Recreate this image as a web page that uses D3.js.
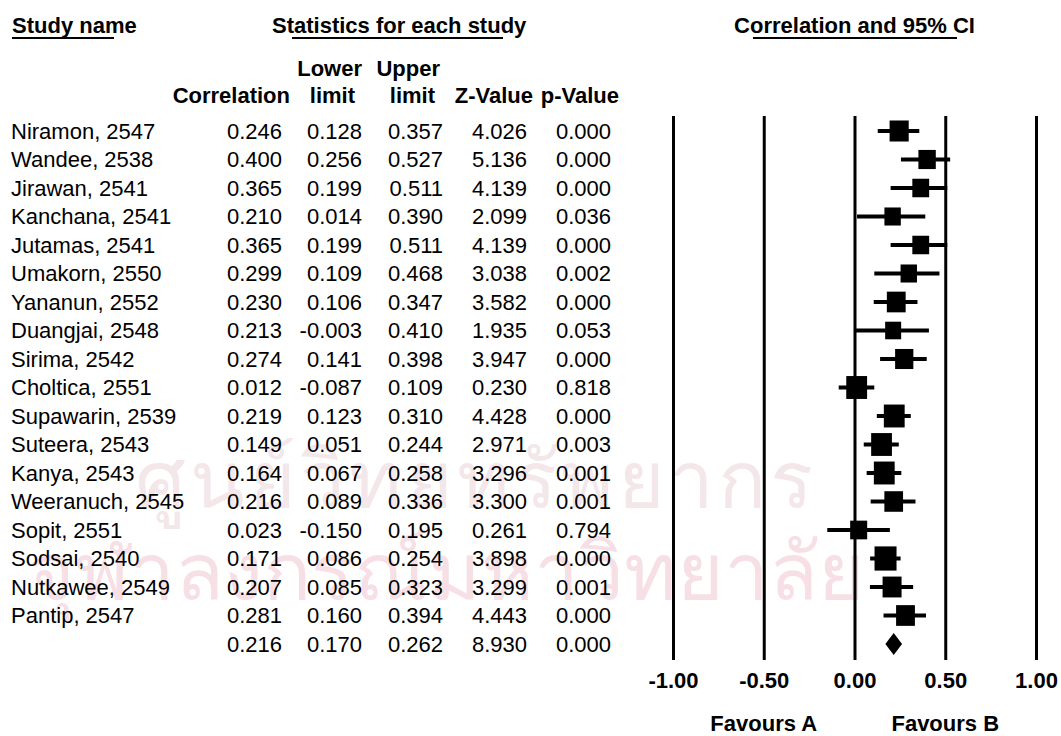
<!DOCTYPE html>
<html>
<head>
<meta charset="utf-8">
<script src="https://cdn.jsdelivr.net/npm/d3@7"></script>
<style>
  body { margin: 0; background: #fff; }
  text { font-family: Arial, "Liberation Sans", sans-serif; fill: #000; }
</style>
</head>
<body>
<div id="my_dataviz"></div>
<script>
// study rows
var studies = ["Niramon, 2547", "Wandee, 2538", "Jirawan, 2541", "Kanchana, 2541", "Jutamas, 2541",
    "Umakorn, 2550", "Yananun, 2552", "Duangjai, 2548", "Sirima, 2542", "Choltica, 2551",
    "Supawarin, 2539", "Suteera, 2543", "Kanya, 2543", "Weeranuch, 2545", "Sopit, 2551",
    "Sodsai, 2540", "Nutkawee, 2549", "Pantip, 2547"];
var correlation = [0.246, 0.400, 0.365, 0.210, 0.365, 0.299, 0.230, 0.213, 0.274, 0.012,
    0.219, 0.149, 0.164, 0.216, 0.023, 0.171, 0.207, 0.281];
var lowerLimit = [0.128, 0.256, 0.199, 0.014, 0.199, 0.109, 0.106, -0.003, 0.141, -0.087,
    0.123, 0.051, 0.067, 0.089, -0.150, 0.086, 0.085, 0.160];
var upperLimit = [0.357, 0.527, 0.511, 0.390, 0.511, 0.468, 0.347, 0.410, 0.398, 0.109,
    0.310, 0.244, 0.258, 0.336, 0.195, 0.254, 0.323, 0.394];
var zValue = [4.026, 5.136, 4.139, 2.099, 4.139, 3.038, 3.582, 1.935, 3.947, 0.230,
    4.428, 2.971, 3.296, 3.300, 0.261, 3.898, 3.299, 4.443];
var pValue = [0.000, 0.000, 0.000, 0.036, 0.000, 0.002, 0.000, 0.053, 0.000, 0.818,
    0.000, 0.003, 0.001, 0.001, 0.794, 0.000, 0.001, 0.000];
// pooled estimate: correlation, lower, upper, z, p
var summaryStats = [0.216, 0.170, 0.262, 8.930, 0.000];
var tickValues = [-1, -0.5, 0, 0.5, 1];
var favourLabels = [{ v: -0.5, label: "Favours A" }, { v: 0.5, label: "Favours B" }];

var width = 1061, height = 736;
var svg = d3.select("#my_dataviz")
    .append("svg")
    .attr("width", width)
    .attr("height", height);

// faint watermark behind everything
var wm = svg.append("g").style("font-family", "'Noto Sans Thai', 'Noto Sans', 'DejaVu Sans', sans-serif");
wm.append("text").attr("x", 135).attr("y", 508).style("font-size", "80px")
    .style("letter-spacing", "4px").style("fill", "#f4e7ea")
    .text("ศูนย์วิทยทรัพยากร");
wm.append("text").attr("x", 28).attr("y", 600).style("font-size", "80px").style("fill", "#f7e0e5")
    .text("จุฬาลงกรณ์มหาวิทยาลัย");

var nRows = studies.length + 1;
var x = d3.scaleLinear().domain([-1, 1]).range([673, 1036]);
var y = d3.scalePoint().domain(d3.range(nRows)).range([131, 644]);

var lineTop = 116, axisY = 660;

// box size from study precision (fisher z)
var precision = studies.map(function (d, i) {
    return 3.92 / (Math.atanh(upperLimit[i]) - Math.atanh(lowerLimit[i]));
});
var boxSize = d3.scaleLinear().domain(d3.extent(precision)).range([16, 22]);

// headers
var head = svg.append("g").style("font-weight", "bold").style("font-size", "22px");
head.append("text").attr("x", 12).attr("y", 33).text("Study name");
head.append("text").attr("x", 272).attr("y", 33).text("Statistics for each study");
head.append("text").attr("x", x(0)).attr("y", 33).attr("text-anchor", "middle").text("Correlation and 95% CI");

var underlines = [[12, 114], [292, 503], [753, 957]];
svg.selectAll(".uline").data(underlines).enter().append("line")
    .attr("class", "uline")
    .attr("x1", function (d) { return d[0]; })
    .attr("x2", function (d) { return d[1]; })
    .attr("y1", 38).attr("y2", 38)
    .attr("stroke", "#000").attr("stroke-width", 2);

var colHeads = [
    { t: "Lower", x: 362, y: 76 }, { t: "Upper", x: 440, y: 76 },
    { t: "Correlation", x: 290, y: 103 }, { t: "limit", x: 355, y: 103 },
    { t: "limit", x: 435, y: 103 }, { t: "Z-Value", x: 533, y: 103 }, { t: "p-Value", x: 619, y: 103 }
];
head.selectAll(".colhead").data(colHeads).enter().append("text")
    .attr("class", "colhead")
    .attr("x", function (d) { return d.x; })
    .attr("y", function (d) { return d.y; })
    .attr("text-anchor", "end")
    .text(function (d) { return d.t; });

// table body
var fmt = d3.format(".3f");
var cols = [correlation, lowerLimit, upperLimit, zValue, pValue];
var colRight = [282, 362, 443, 527, 611];
var table = svg.append("g").style("font-size", "22px");

table.selectAll(".name").data(studies).enter().append("text")
    .attr("class", "name")
    .attr("x", 11)
    .attr("y", function (d, i) { return y(i); })
    .attr("dy", "0.35em")
    .text(function (d) { return d; });

cols.forEach(function (col, c) {
    var vals = col.concat([summaryStats[c]]);
    table.selectAll(".c" + c).data(vals).enter().append("text")
        .attr("class", "c" + c)
        .attr("x", colRight[c])
        .attr("y", function (d, i) { return y(i); })
        .attr("dy", "0.35em")
        .attr("text-anchor", "end")
        .text(function (d) { return fmt(d).replace("−", "-"); });
});

// vertical reference lines + tick labels
var xAxis = d3.axisBottom(x)
    .tickValues(tickValues)
    .tickSize(-(axisY - lineTop))
    .tickPadding(12)
    .tickFormat(function (d) { return d.toFixed(2); });

var gx = svg.append("g")
    .attr("transform", "translate(0," + axisY + ")")
    .call(xAxis);
gx.select(".domain").remove();
gx.selectAll(".tick line").attr("stroke", "#000").attr("stroke-width", 3);
gx.selectAll(".tick text")
    .attr("fill", "#000")
    .style("font-family", "Arial, 'Liberation Sans', sans-serif")
    .style("font-size", "22px")
    .style("font-weight", "bold");

// confidence intervals
var plot = svg.append("g");
plot.selectAll(".ci").data(studies).enter().append("line")
    .attr("class", "ci")
    .attr("x1", function (d, i) { return x(lowerLimit[i]); })
    .attr("x2", function (d, i) { return x(upperLimit[i]); })
    .attr("y1", function (d, i) { return y(i); })
    .attr("y2", function (d, i) { return y(i); })
    .attr("stroke", "#000").attr("stroke-width", 4);

plot.selectAll(".box").data(studies).enter().append("rect")
    .attr("class", "box")
    .attr("x", function (d, i) { return x(correlation[i]) - boxSize(precision[i]) / 2; })
    .attr("y", function (d, i) { return y(i) - boxSize(precision[i]) * 1.1 / 2; })
    .attr("width", function (d, i) { return boxSize(precision[i]); })
    .attr("height", function (d, i) { return boxSize(precision[i]) * 1.1; })
    .attr("fill", "#000");

// pooled diamond
var sy = y(nRows - 1), dh = 11;
plot.append("path")
    .attr("d", "M" + x(summaryStats[1]) + "," + sy +
        "L" + x(summaryStats[0]) + "," + (sy - dh) +
        "L" + x(summaryStats[2]) + "," + sy +
        "L" + x(summaryStats[0]) + "," + (sy + dh) + "Z")
    .attr("fill", "#000");

// favours labels
svg.selectAll(".fav").data(favourLabels).enter().append("text")
    .attr("class", "fav")
    .attr("x", function (d) { return x(d.v); })
    .attr("y", 731)
    .attr("text-anchor", "middle")
    .style("font-size", "22px")
    .style("font-weight", "bold")
    .text(function (d) { return d.label; });
</script>
</body>
</html>
